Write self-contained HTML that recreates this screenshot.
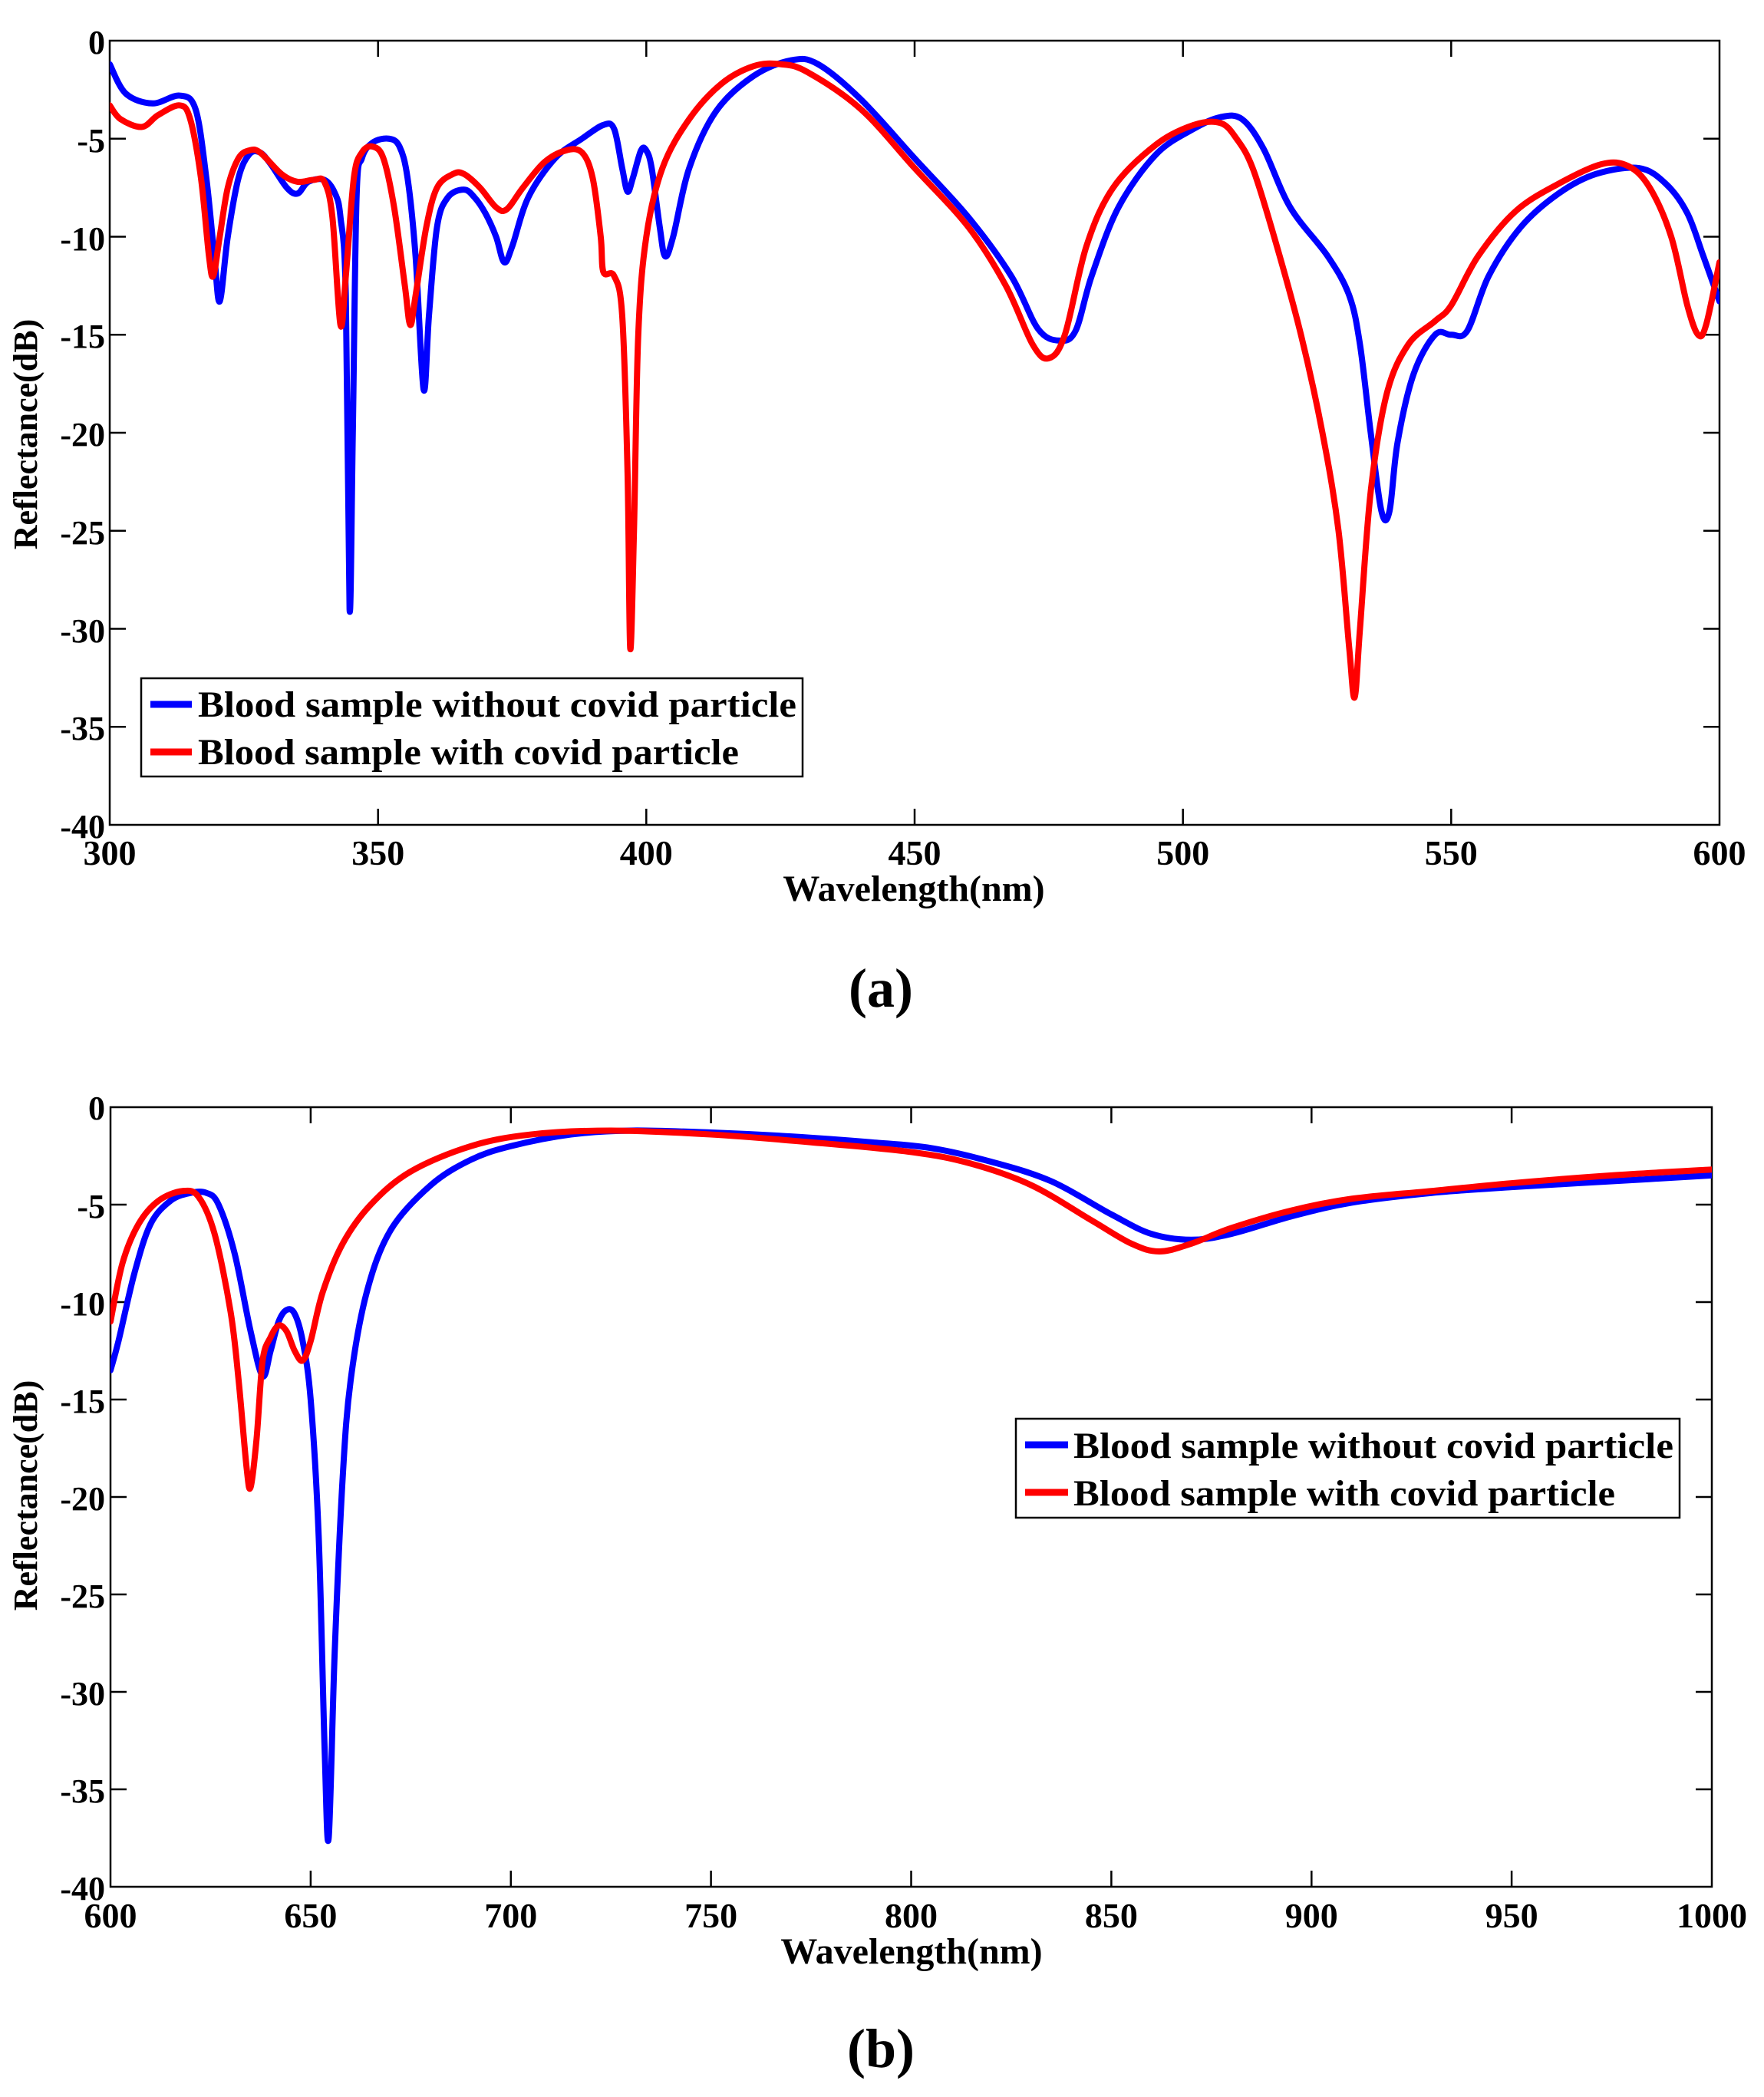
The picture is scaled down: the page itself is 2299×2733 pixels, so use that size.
<!DOCTYPE html>
<html><head><meta charset="utf-8"><style>
html,body{margin:0;padding:0;background:#fff;}
svg{display:block;}
text{font-family:"Liberation Serif",serif;font-weight:bold;fill:#000;}
</style></head><body>
<svg width="2299" height="2733" viewBox="0 0 2299 2733" xmlns="http://www.w3.org/2000/svg">
<rect width="2299" height="2733" fill="#fff"/>

<!-- ===== Plot A ===== -->
<g stroke="#000" stroke-width="2.5" fill="none">
<rect x="143" y="53" width="2098" height="1022"/>
<path d="M143 180.75h21M143 308.5h21M143 436.25h21M143 564h21M143 691.75h21M143 819.5h21M143 947.25h21"/>
<path d="M2241 180.75h-21M2241 308.5h-21M2241 436.25h-21M2241 564h-21M2241 691.75h-21M2241 819.5h-21M2241 947.25h-21"/>
<path d="M492.7 1075v-21M842.3 1075v-21M1192 1075v-21M1541.7 1075v-21M1891.3 1075v-21"/>
<path d="M492.7 53v21M842.3 53v21M1192 53v21M1541.7 53v21M1891.3 53v21"/>
</g>
<g font-size="44" text-anchor="end">
<text x="137" y="70">0</text>
<text x="137" y="198">-5</text>
<text x="137" y="326">-10</text>
<text x="137" y="453">-15</text>
<text x="137" y="581">-20</text>
<text x="137" y="709">-25</text>
<text x="137" y="837">-30</text>
<text x="137" y="964">-35</text>
<text x="137" y="1092">-40</text>
</g>
<g font-size="46" text-anchor="middle">
<text x="143" y="1127">300</text>
<text x="492.7" y="1127">350</text>
<text x="842.3" y="1127">400</text>
<text x="1192" y="1127">450</text>
<text x="1541.7" y="1127">500</text>
<text x="1891.3" y="1127">550</text>
<text x="2241" y="1127">600</text>
</g>
<text x="1191" y="1174" font-size="48" text-anchor="middle">Wavelength(nm)</text>
<text transform="translate(48,566) rotate(-90)" font-size="44" text-anchor="middle">Reflectance(dB)</text>
<text x="1148" y="1312" font-size="72" text-anchor="middle">(a)</text>

<svg x="143" y="53" width="2098" height="1022" viewBox="300 0 300 40" preserveAspectRatio="none" overflow="hidden">
<polyline class="sm" vector-effect="non-scaling-stroke" fill="none" stroke="#0000ff" stroke-width="8" stroke-linejoin="round" stroke-linecap="round"
points="300,1.2 303,2.7 308,3.2 313,2.8 316,3.5 318,7 319.5,11 320.5,13.3 322,10 324,7 326,5.8 328,5.7 330,6.3 333,7.5 335,7.8 337,7.2 340,7.1 342,7.8 343,9 344,13 344.7,29 345.3,20 346,8 347,6 349,5.2 352,5 354,5.4 355.5,7 357,11 358.5,17.8 359.5,14 361,9.5 363,8 366,7.6 368,8 370,8.8 372,10 373.5,11.3 375,10.5 378,8 383,6 388,5 392,4.3 394,4.5 395.5,6.5 396.5,7.7 397.5,7 399,5.6 400,5.6 401,6.5 402.5,9.5 403.5,11 405,10 408,6.5 413,3.6 420,1.8 427,1 432,1.2 440,3 450,6 460,9 468,12 473,14.7 477,15.3 480,14.8 483,12 488,8.5 495,5.8 502,4.5 507,3.9 511,4 515,5.5 520,8.5 527,11 531,13 533,15.5 535,20 537,24 538.5,24 540,20.5 543,17 547,15 550,15 553,14.8 557,12 563,9.5 570,7.8 577,6.8 585,6.5 590,7.3 594,8.8 597,11 600,13.3"/>
<polyline class="sm" vector-effect="non-scaling-stroke" fill="none" stroke="#ff0000" stroke-width="8" stroke-linejoin="round" stroke-linecap="round"
points="300,3.3 302,4 306,4.4 309,3.8 313,3.3 315,4 317,7 318.5,11 319.3,12 320.5,10 322,7.5 324,6 326,5.6 328,5.7 332,6.8 335,7.2 338,7.1 340,7.2 341.5,9 343,14.5 344,12 345.5,7 347,5.7 349,5.4 351,6 353,8.5 355,12.5 356,14.5 357,13 359,9.5 361,7.5 364,6.8 366,6.8 369,7.5 372,8.5 374,8.6 377,7.5 381,6.2 385,5.6 388,5.7 390,7 391.5,10 392,11.8 394,12 395.5,14 396.5,22 397,31 397.7,25 398.5,15 400,10 403,6.5 408,4 414,2.2 420,1.3 425,1.2 430,1.6 440,3.5 450,6.5 460,9.5 467,12.5 472,15.5 475,16.2 478,15 482,10.5 487,7.5 495,5.3 502,4.3 507,4.2 510,5 513,6.5 517,10 522,15 526,20 529,25 531,31 532,33.5 533,30 535,23 538,18 542,15.5 547,14.3 550,13.5 555,11 562,8.7 570,7.3 578,6.3 583,6.4 587,7.5 591,10 594,13.5 596,15 597.5,14.5 600,11.3"/>
</svg>

<rect x="184" y="884" width="862" height="128" fill="#fff" stroke="#000" stroke-width="2.5"/>
<line x1="196" y1="918" x2="250" y2="918" stroke="#0000ff" stroke-width="9"/>
<line x1="196" y1="980" x2="250" y2="980" stroke="#ff0000" stroke-width="9"/>
<text x="258" y="934" font-size="48" textLength="780" lengthAdjust="spacingAndGlyphs">Blood sample without covid particle</text>
<text x="258" y="996" font-size="48" textLength="705" lengthAdjust="spacingAndGlyphs">Blood sample with covid particle</text>

<!-- ===== Plot B ===== -->
<g stroke="#000" stroke-width="2.5" fill="none">
<rect x="144" y="1443" width="2087" height="1016"/>
<path d="M144 1570h21M144 1697h21M144 1824h21M144 1951h21M144 2078h21M144 2205h21M144 2332h21"/>
<path d="M2231 1570h-21M2231 1697h-21M2231 1824h-21M2231 1951h-21M2231 2078h-21M2231 2205h-21M2231 2332h-21"/>
<path d="M404.9 2459v-21M665.8 2459v-21M926.6 2459v-21M1187.5 2459v-21M1448.4 2459v-21M1709.3 2459v-21M1970.1 2459v-21"/>
<path d="M404.9 1443v21M665.8 1443v21M926.6 1443v21M1187.5 1443v21M1448.4 1443v21M1709.3 1443v21M1970.1 1443v21"/>
</g>
<g font-size="44" text-anchor="end">
<text x="137" y="1459">0</text>
<text x="137" y="1587">-5</text>
<text x="137" y="1714">-10</text>
<text x="137" y="1841">-15</text>
<text x="137" y="1968">-20</text>
<text x="137" y="2095">-25</text>
<text x="137" y="2222">-30</text>
<text x="137" y="2349">-35</text>
<text x="137" y="2476">-40</text>
</g>
<g font-size="46" text-anchor="middle">
<text x="144" y="2512">600</text>
<text x="404.9" y="2512">650</text>
<text x="665.8" y="2512">700</text>
<text x="926.6" y="2512">750</text>
<text x="1187.5" y="2512">800</text>
<text x="1448.4" y="2512">850</text>
<text x="1709.3" y="2512">900</text>
<text x="1970.1" y="2512">950</text>
<text x="2231" y="2512">1000</text>
</g>
<text x="1188" y="2559" font-size="48" text-anchor="middle">Wavelength(nm)</text>
<text transform="translate(48,1949) rotate(-90)" font-size="44" text-anchor="middle">Reflectance(dB)</text>
<text x="1148" y="2694" font-size="72" text-anchor="middle">(b)</text>

<svg x="144" y="1443" width="2087" height="1016" viewBox="600 0 400 40" preserveAspectRatio="none" overflow="hidden">
<polyline class="sm" vector-effect="non-scaling-stroke" fill="none" stroke="#0000ff" stroke-width="8" stroke-linejoin="round" stroke-linecap="round"
points="600,13.5 602,12 606,8.5 610,6 615,4.8 620,4.4 624,4.4 627,5 631,7.5 635,11.5 638,13.8 640,12.5 642,11 644,10.4 646,10.6 648,12 650,15 652,22 653.5,33 654.5,37.5 656,28 658,19 660,14 664,9.5 670,6.3 680,4 690,2.7 700,2 715,1.4 730,1.2 750,1.3 770,1.5 790,1.8 805,2.1 820,2.8 835,3.8 850,5.5 860,6.5 870,6.8 880,6.5 895,5.6 910,4.9 930,4.4 950,4.1 975,3.8 1000,3.5"/>
<polyline class="sm" vector-effect="non-scaling-stroke" fill="none" stroke="#ff0000" stroke-width="8" stroke-linejoin="round" stroke-linecap="round"
points="600,11 603,8 607,6 612,4.8 618,4.3 622,4.6 626,6.5 630,10.5 632,14 634,18.5 635,19.5 636.5,17 638,13 640,11.8 642,11.2 644,11.5 646,12.5 648,13 650,12 653,9.5 658,7 665,5 675,3.3 690,2 705,1.4 725,1.2 750,1.4 775,1.8 800,2.3 815,2.9 830,4 845,5.8 855,7 862,7.4 870,7 880,6.2 895,5.3 910,4.7 930,4.3 950,3.9 975,3.5 1000,3.2"/>
</svg>

<rect x="1324" y="1849" width="865" height="129" fill="#fff" stroke="#000" stroke-width="2.5"/>
<line x1="1336" y1="1883" x2="1392" y2="1883" stroke="#0000ff" stroke-width="9"/>
<line x1="1336" y1="1945" x2="1392" y2="1945" stroke="#ff0000" stroke-width="9"/>
<text x="1399" y="1900" font-size="48" textLength="782" lengthAdjust="spacingAndGlyphs">Blood sample without covid particle</text>
<text x="1399" y="1962" font-size="48" textLength="706" lengthAdjust="spacingAndGlyphs">Blood sample with covid particle</text>
</svg>
<script>
(function(){
var NS="http://www.w3.org/2000/svg";
document.querySelectorAll("polyline.sm").forEach(function(pl){
  var p=pl.getAttribute("points").trim().split(/\s+/).map(function(s){var a=s.split(",");return [+a[0],+a[1]];});
  var d="M"+p[0][0]+","+p[0][1];
  for(var i=0;i<p.length-1;i++){
    var p0=p[i>0?i-1:i],p1=p[i],p2=p[i+1],p3=p[i+2<p.length?i+2:i+1];
    var t=0.5/3;
    var c1x=p1[0]+(p2[0]-p0[0])*t, c1y=p1[1]+(p2[1]-p0[1])*t;
    var c2x=p2[0]-(p3[0]-p1[0])*t, c2y=p2[1]-(p3[1]-p1[1])*t;
    // keep x monotone
    c1x=Math.min(Math.max(c1x,p1[0]),p2[0]); c2x=Math.min(Math.max(c2x,p1[0]),p2[0]);
    d+=" C"+c1x+","+c1y+" "+c2x+","+c2y+" "+p2[0]+","+p2[1];
  }
  var path=document.createElementNS(NS,"path");
  ["vector-effect","fill","stroke","stroke-width","stroke-linejoin","stroke-linecap"].forEach(function(a){path.setAttribute(a,pl.getAttribute(a));});
  path.setAttribute("d",d);
  pl.parentNode.replaceChild(path,pl);
});
})();
</script>
</body></html>
